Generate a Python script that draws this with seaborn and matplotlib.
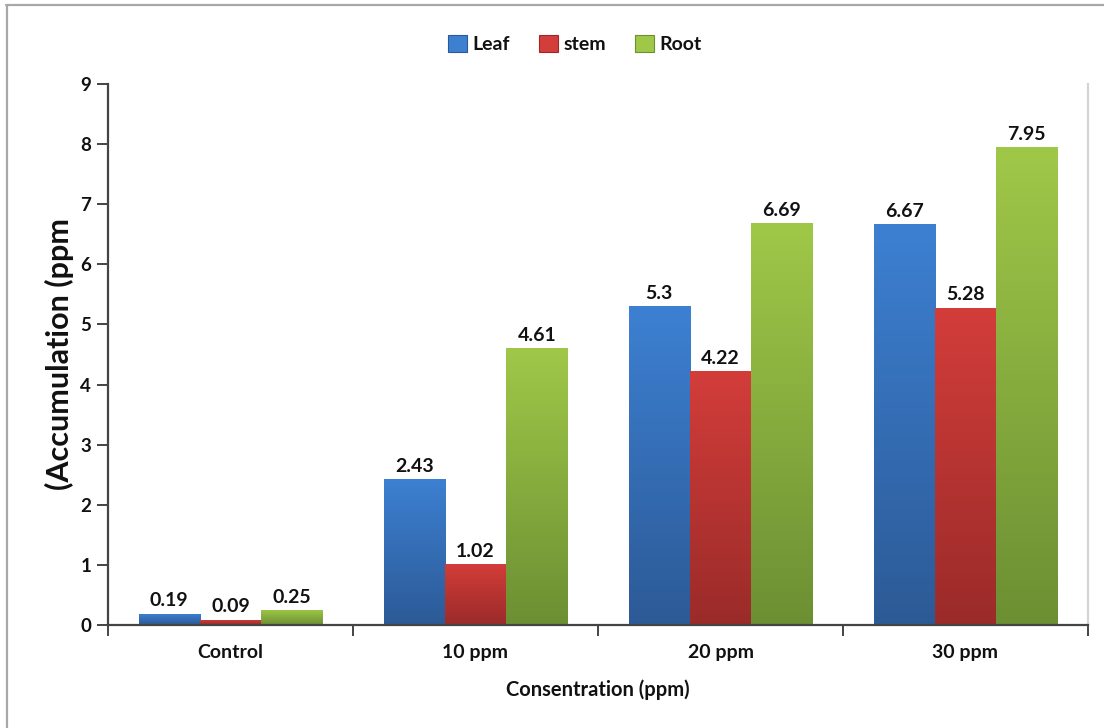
import numpy as np
import pandas as pd
import matplotlib
matplotlib.use("Agg")
import matplotlib.pyplot as plt
from matplotlib.colors import LinearSegmentedColormap
from matplotlib.patches import Patch
from matplotlib.lines import Line2D
import seaborn as sns

# Data
categories = ["Control", "10 ppm", "20 ppm", "30 ppm"]
parts = ["Leaf", "stem", "Root"]
leaf = [0.19, 2.43, 5.3, 6.67]
stem = [0.09, 1.02, 4.22, 5.28]
root = [0.25, 4.61, 6.69, 7.95]
value_labels = {
    "Leaf": ["0.19", "2.43", "5.3", "6.67"],
    "stem": ["0.09", "1.02", "4.22", "5.28"],
    "Root": ["0.25", "4.61", "6.69", "7.95"],
}
y_ticks = [0, 1, 2, 3, 4, 5, 6, 7, 8, 9]

df = pd.DataFrame({
    "Concentration": categories * 3,
    "Part": [p for p in parts for _ in categories],
    "Value": leaf + stem + root,
})

# Bar colours: (top, bottom) of the vertical gradient
shades = {
    "Leaf": ("#3d80d2", "#2c5a96"),
    "stem": ("#d33d3a", "#9a2b29"),
    "Root": ("#a0c848", "#6c8f33"),
}
base = {p: shades[p][0] for p in parts}
text_color = "#111111"

sns.set_theme(style="white")
plt.rcParams["font.family"] = ["Lato", "DejaVu Sans"]
plt.rcParams["font.weight"] = "bold"

fig = plt.figure(figsize=(11.04, 7.28), dpi=100)
ax = fig.add_axes([108 / 1104, 1 - 625 / 728, (1088 - 108) / 1104, (625 - 84) / 728])

sns.barplot(data=df, x="Concentration", y="Value", hue="Part",
            order=categories, hue_order=parts, palette=base,
            width=0.75, gap=0, ax=ax, legend=False,
            edgecolor="white", linewidth=0.6, errorbar=None)

# Vertical gradient fills clipped to each bar, plus value labels
for container, part in zip(ax.containers, parts):
    cmap = LinearSegmentedColormap.from_list(part, [shades[part][1], shades[part][0]])
    grad = np.linspace(0, 1, 256).reshape(-1, 1)
    for bar, txt in zip(container.patches, value_labels[part]):
        x0, y0 = bar.get_x(), bar.get_y()
        w, h = bar.get_width(), bar.get_height()
        im = ax.imshow(grad, cmap=cmap, origin="lower", aspect="auto",
                       extent=[x0, x0 + w, y0, y0 + h], zorder=bar.get_zorder() + 0.1,
                       interpolation="bilinear")
        im.set_clip_path(bar)
        ax.annotate(txt, (x0 + w / 2, y0 + h), xytext=(0, 3), textcoords="offset points",
                    ha="center", va="bottom", fontsize=14, fontweight="bold",
                    color=text_color)
ax.set_xlim(-0.5, 3.5)
ax.set_ylim(0, 9)

# Axes styling
for side in ["left", "bottom"]:
    ax.spines[side].set_color("#444444")
    ax.spines[side].set_linewidth(1.6)
ax.spines["top"].set_visible(False)
ax.spines["right"].set_color("#d4d4d4")
ax.spines["right"].set_linewidth(1.6)

ax.set_yticks(y_ticks)
ax.set_yticklabels([str(t) for t in y_ticks], fontsize=13.5, fontweight="bold", color=text_color)
ax.tick_params(axis="y", direction="out", length=8, width=1.4, color="#444444", pad=4, left=True)

ax.set_xticks(range(len(categories)))
ax.set_xticklabels(categories, fontsize=14, fontweight="bold", color=text_color)
ax.set_xticks(np.arange(-0.5, len(categories), 1.0), minor=True)
ax.tick_params(axis="x", which="major", length=0, pad=14)
ax.tick_params(axis="x", which="minor", direction="out", length=8, width=1.4,
               color="#444444", bottom=True)

ax.set_xlabel("Consentration (ppm)", fontsize=14.5, fontweight="bold", color=text_color, labelpad=13)
ax.set_ylabel("(Accumulation (ppm", fontsize=22, fontweight="bold", color=text_color, labelpad=5)

# Legend
handles = [Patch(facecolor=shades[p][0], edgecolor=shades[p][1], linewidth=0.8) for p in parts]
fig.legend(handles, parts, loc="center", bbox_to_anchor=(575 / 1104, 1 - 44 / 728), ncol=3,
           frameon=False, handlelength=0.95, handleheight=0.95,
           handletextpad=0.3, columnspacing=1.5, prop={"weight": "bold", "size": 14},
           labelcolor=text_color)

# Outer frame lines
fig.add_artist(Line2D([6 / 1104, 1], [1 - 4.5 / 728, 1 - 4.5 / 728], transform=fig.transFigure,
                      color="#a8a8a8", linewidth=1.6))
fig.add_artist(Line2D([6.5 / 1104, 6.5 / 1104], [0, 1 - 4.5 / 728], transform=fig.transFigure,
                      color="#a8a8a8", linewidth=1.6))

fig.savefig("out.png", dpi=100, facecolor="white")
